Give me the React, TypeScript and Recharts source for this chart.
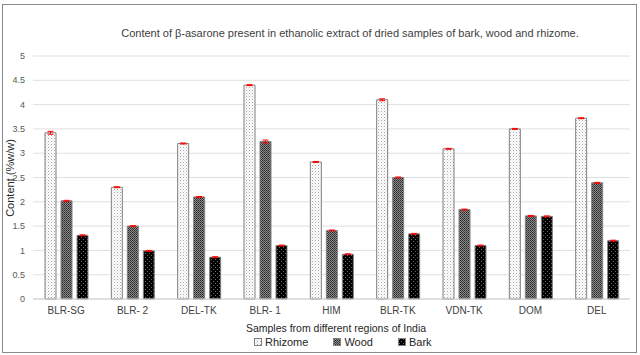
import React from 'react';
import { BarChart, Bar, XAxis, YAxis, CartesianGrid, ErrorBar } from 'recharts';

const categories = ['BLR-SG', 'BLR- 2', 'DEL-TK', 'BLR- 1', 'HIM', 'BLR-TK', 'VDN-TK', 'DOM', 'DEL'];
const rhizome = [3.42, 2.3, 3.2, 4.4, 2.82, 4.1, 3.09, 3.5, 3.72];
const wood = [2.02, 1.5, 2.1, 3.24, 1.41, 2.5, 1.84, 1.71, 2.39];
const bark = [1.31, 0.99, 0.86, 1.1, 0.92, 1.34, 1.1, 1.7, 1.2];
const rhizomeErr = [0.03, 0.01, 0.01, 0.01, 0.01, 0.02, 0.01, 0.01, 0.01];
const woodErr = [0.01, 0.01, 0.01, 0.03, 0.01, 0.01, 0.01, 0.01, 0.01];
const barkErr = [0.01, 0.01, 0.01, 0.01, 0.01, 0.01, 0.01, 0.01, 0.01];
const yTicks = [0, 0.5, 1, 1.5, 2, 2.5, 3, 3.5, 4, 4.5, 5];

const title = 'Content of \u03b2-asarone present in ethanolic extract of dried samples of bark, wood and rhizome.';
const xTitle = 'Samples from different regions of India';
const yTitle = 'Content (%w/w)';
const seriesNames = ['Rhizome', 'Wood', 'Bark'];

const data = categories.map((c, i) => ({
  name: c,
  rhizome: rhizome[i],
  wood: wood[i],
  bark: bark[i],
  rhizomeErr: rhizomeErr[i],
  woodErr: woodErr[i],
  barkErr: barkErr[i],
}));

const font = '"Liberation Sans", Arial, sans-serif';

const Patterns = () => (
  <svg width={0} height={0} style={{ position: 'absolute' }}>
    <defs>
      <pattern id="patRhizome" width="3" height="3" patternUnits="userSpaceOnUse">
        <rect width="3" height="3" fill="#ffffff" />
        <rect x="0" y="0" width="1" height="1" fill="#a6a6a6" />
        <rect x="1.5" y="1.5" width="1" height="1" fill="#c8c8c8" />
      </pattern>
      <pattern id="patWood" width="2" height="2" patternUnits="userSpaceOnUse">
        <rect width="2" height="2" fill="#8c8c8c" />
        <rect x="0" y="0" width="1" height="1" fill="#262626" />
        <rect x="1" y="1" width="1" height="1" fill="#404040" />
      </pattern>
      <pattern id="patBark" width="4" height="4" patternUnits="userSpaceOnUse">
        <rect width="4" height="4" fill="#000000" />
        <rect x="1" y="1" width="1" height="1" fill="#6a6a6a" />
        <rect x="3" y="3" width="1" height="1" fill="#6a6a6a" />
      </pattern>
    </defs>
  </svg>
);

const fills = ['url(#patRhizome)', 'url(#patWood)', 'url(#patBark)'];

export default function App() {
  return (
    <div style={{ position: 'absolute', left: 0, top: 0, width: 640, height: 355, background: '#fff', fontFamily: font }}>
      <Patterns />
      <div style={{ position: 'absolute', left: 2, top: 4, width: 635, height: 349, border: '1px solid #8a8a8a', boxSizing: 'border-box' }} />
      <div style={{ position: 'absolute', left: 0, width: 700, top: 27, textAlign: 'center', fontSize: 11, color: '#404040', whiteSpace: 'nowrap' }}>
        {title}
      </div>
      <BarChart
        width={640}
        height={355}
        data={data}
        margin={{ top: 56, right: 10, bottom: 26, left: 0 }}
        barGap={5}
        barSize={11}
      >
        <CartesianGrid vertical={false} stroke="#e0e0e0" />
        <XAxis
          dataKey="name"
          height={30}
          tickLine={false}
          axisLine={{ stroke: '#d0d0d0' }}
          tick={{ fontSize: 10, fill: '#404040', fontFamily: font }}
          interval={0}
        />
        <YAxis
          width={33}
          domain={[0, 5]}
          ticks={yTicks}
          axisLine={false}
          tickLine={false}
          tick={{ fontSize: 9, fill: '#595959', fontFamily: font }}
        />
        <Bar dataKey="rhizome" fill={fills[0]} stroke="#808080" strokeWidth={1} isAnimationActive={false}>
          <ErrorBar dataKey="rhizomeErr" width={3} stroke="#ff0000" strokeWidth={1} />
        </Bar>
        <Bar dataKey="wood" fill={fills[1]} stroke="#808080" strokeWidth={1} isAnimationActive={false}>
          <ErrorBar dataKey="woodErr" width={3} stroke="#ff0000" strokeWidth={1} />
        </Bar>
        <Bar dataKey="bark" fill={fills[2]} stroke="#808080" strokeWidth={1} isAnimationActive={false}>
          <ErrorBar dataKey="barkErr" width={3} stroke="#ff0000" strokeWidth={1} />
        </Bar>
      </BarChart>
      <div style={{ position: 'absolute', left: 0, width: 672, top: 322, textAlign: 'center', fontSize: 10.5, color: '#262626', whiteSpace: 'nowrap' }}>
        {xTitle}
      </div>
      <div
        style={{
          position: 'absolute',
          left: 10,
          top: 178,
          transform: 'translate(-50%, -50%) rotate(-90deg)',
          fontSize: 11,
          color: '#262626',
          whiteSpace: 'nowrap',
        }}
      >
        {yTitle}
      </div>
      <div style={{ position: 'absolute', left: 254, top: 336, display: 'flex', gap: 25, fontSize: 11, color: '#262626' }}>
        {seriesNames.map((n, i) => (
          <div key={n} style={{ display: 'flex', alignItems: 'center', gap: 3 }}>
            <svg width={8} height={8}>
              <rect x={0.5} y={0.5} width={7} height={7} fill={fills[i]} stroke="#808080" strokeWidth={1} />
            </svg>
            <span>{n}</span>
          </div>
        ))}
      </div>
    </div>
  );
}
